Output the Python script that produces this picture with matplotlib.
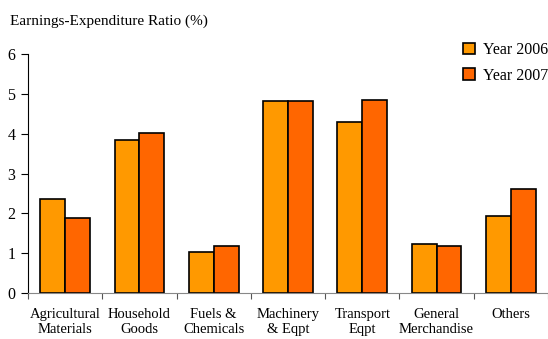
import matplotlib.pyplot as plt
import numpy as np

categories = [
    "Agricultural\nMaterials",
    "Household\nGoods",
    "Fuels &\nChemicals",
    "Machinery\n& Eqpt",
    "Transport\nEqpt",
    "General\nMerchandise",
    "Others",
]
year_2006 = [2.36, 3.84, 1.03, 4.81, 4.29, 1.22, 1.93]
year_2007 = [1.89, 4.01, 1.17, 4.81, 4.85, 1.19, 2.60]

plt.rcParams["font.family"] = ["Liberation Serif", "DejaVu Serif"]
plt.rcParams["font.size"] = 11

fig = plt.figure(figsize=(5.48, 3.39), dpi=100)
ax = fig.add_axes([28 / 548, 46 / 339, 520 / 548, 239 / 339])

x = np.arange(len(categories))
w = 0.335
ax.bar(x - w / 2, year_2006, w, color="#FF9900", edgecolor="black", linewidth=1.2, label="Year 2006")
ax.bar(x + w / 2, year_2007, w, color="#FF6600", edgecolor="black", linewidth=1.2, label="Year 2007")

ax.set_xlim(-0.5, -0.5 + 520 / 74.7)
ax.set_ylim(0, 6)
ax.set_yticks(range(7))
# category names sit between the boundary ticks
ax.set_xticks(x, minor=True)
ax.set_xticklabels(categories, minor=True, linespacing=2.0)
ax.set_xticks(np.arange(-0.5, len(categories), 1.0))
ax.set_xticklabels([])
ax.tick_params(axis="x", which="minor", length=0, pad=11, labelsize=10.5)
ax.tick_params(axis="x", which="major", direction="out", length=4, color="#555555")
ax.tick_params(axis="y", direction="out", length=5, pad=4, labelsize=11.5)

for side in ("top", "right"):
    ax.spines[side].set_visible(False)
ax.spines["bottom"].set_color("#888888")

ax.legend(loc="upper right", bbox_to_anchor=(1.0, 1 - 42 / 339), bbox_transform=fig.transFigure,
          frameon=False, borderaxespad=0, borderpad=0,
          handlelength=0.75, handleheight=0.75, handletextpad=0.5, labelspacing=0.6,
          fontsize=11.5)

fig.text(10 / 548, 1 - 21 / 339, "Earnings-Expenditure Ratio (%)", va="center", ha="left", fontsize=11)

fig.savefig("out.png", dpi=100)
